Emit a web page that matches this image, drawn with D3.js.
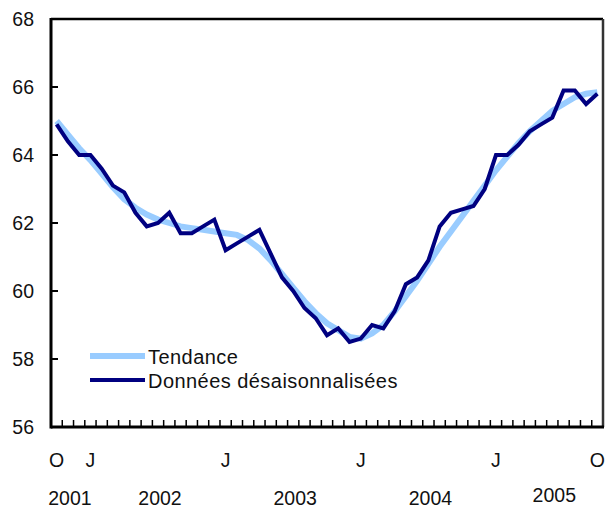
<!DOCTYPE html>
<html>
<head>
    <meta charset="utf-8">
    <script src="https://d3js.org/d3.v7.min.js"></script>
    <style>
        body, html { margin: 0; padding: 0; background: #fff; }
        svg { display: block; }
        text { font-family: "Liberation Sans", Arial, sans-serif; font-size: 19.5px; fill: #111; }
        .legend text { font-size: 20px; letter-spacing: 0.45px; }
    </style>
</head>
<body>
<svg width="608" height="508"></svg>
<script>
// months Oct 2001 .. Oct 2005
const months = d3.timeMonth.range(new Date(2001, 9, 1), new Date(2005, 10, 1));

// Tendance (trend)
const tendance = [
    65.0, 64.6, 64.2, 63.85, 63.45, 63.05, 62.7, 62.45, 62.25, 62.1, 62.0, 61.9,
    61.85, 61.8, 61.75, 61.7, 61.65, 61.5, 61.25, 60.9, 60.5, 60.1, 59.7, 59.35,
    59.05, 58.85, 58.65, 58.6, 58.75, 59.0, 59.4, 59.85, 60.3, 60.8, 61.3, 61.75,
    62.2, 62.65, 63.1, 63.55, 63.95, 64.35, 64.7, 65.0, 65.3, 65.5, 65.7, 65.8, 65.85
];

// Données désaisonnalisées
const desais = [
    64.9, 64.4, 64.0, 64.0, 63.6, 63.1, 62.9, 62.3, 61.9, 62.0, 62.3, 61.7,
    61.7, 61.9, 62.1, 61.2, 61.4, 61.6, 61.8, 61.1, 60.4, 60.0, 59.5, 59.2,
    58.7, 58.9, 58.5, 58.6, 59.0, 58.9, 59.4, 60.2, 60.4, 60.9, 61.9, 62.3,
    62.4, 62.5, 63.0, 64.0, 64.0, 64.3, 64.7, 64.9, 65.1, 65.9, 65.9, 65.5, 65.8
];

const yTicks = [56, 58, 60, 62, 64, 66, 68];
const years = [2001, 2002, 2003, 2004, 2005];
const monthLetters = ["J", "F", "M", "A", "M", "J", "J", "A", "S", "O", "N", "D"];
const seriesNames = ["Tendance", "Données désaisonnalisées"];

const svg = d3.select("svg");
const m = { left: 51, right: 603, top: 19, bottom: 427 };

const x = d3.scaleBand()
    .domain(months.map(d => +d))
    .range([m.left, m.right])
    .padding(0);
const cx = d => x(+d) + x.bandwidth() / 2;

const y = d3.scaleLinear().domain([56, 68]).range([m.bottom, m.top]);

// month boundary ticks on bottom axis
const bounds = months.map(d => x(+d)).concat([m.right]);
svg.append("g").selectAll("line")
    .data(bounds.slice(1, -1))
    .enter().append("line")
    .attr("x1", d => d).attr("x2", d => d)
    .attr("y1", m.bottom).attr("y2", m.bottom - 7)
    .attr("stroke", "#000").attr("stroke-width", 1.5);

// y ticks pointing inward
svg.append("g").selectAll("line")
    .data(yTicks.slice(1, -1))
    .enter().append("line")
    .attr("x1", m.left).attr("x2", m.left + 7)
    .attr("y1", d => y(d)).attr("y2", d => y(d))
    .attr("stroke", "#000").attr("stroke-width", 2);

svg.append("g").selectAll("text")
    .data(yTicks)
    .enter().append("text")
    .attr("x", 34)
    .attr("y", d => y(d))
    .attr("text-anchor", "end")
    .attr("dominant-baseline", "central")
    .text(d => d);

// frame
svg.append("line").attr("x1", m.left).attr("x2", m.right).attr("y1", m.top).attr("y2", m.top)
    .attr("stroke", "#000").attr("stroke-width", 2.5);
svg.append("line").attr("x1", m.right).attr("x2", m.right).attr("y1", m.top).attr("y2", m.bottom)
    .attr("stroke", "#333").attr("stroke-width", 2.5);
svg.append("line").attr("x1", m.left).attr("x2", m.left).attr("y1", m.top - 1).attr("y2", m.bottom + 1.5)
    .attr("stroke", "#000").attr("stroke-width", 3);
svg.append("line").attr("x1", m.left).attr("x2", m.right + 1).attr("y1", m.bottom).attr("y2", m.bottom)
    .attr("stroke", "#000").attr("stroke-width", 3);

// month labels: first month, each January, last month
const labelled = months.filter((d, i) => i === 0 || i === months.length - 1 || d.getMonth() === 0);
svg.append("g").selectAll("text")
    .data(labelled)
    .enter().append("text")
    .attr("x", d => cx(d))
    .attr("y", 460)
    .attr("text-anchor", "middle")
    .attr("dominant-baseline", "central")
    .text(d => monthLetters[d.getMonth()]);

// year labels centred on middle month of the year within range
svg.append("g").selectAll("text")
    .data(years)
    .enter().append("text")
    .attr("x", yr => {
        const ms = months.filter(d => d.getFullYear() === yr);
        return cx(ms[Math.floor(ms.length / 2)]) + 2;
    })
    .attr("y", yr => yr === 2005 ? 495 : 497.5)
    .attr("text-anchor", "middle")
    .attr("dominant-baseline", "central")
    .text(d => d);

const line = d3.line()
    .x((d, i) => cx(months[i]))
    .y(d => y(d));

svg.append("path").datum(tendance)
    .attr("d", line)
    .attr("fill", "none")
    .attr("stroke", "#99ccff")
    .attr("stroke-width", 6);

svg.append("path").datum(desais)
    .attr("d", line)
    .attr("fill", "none")
    .attr("stroke", "#000080")
    .attr("stroke-width", 4);

// legend
const legend = svg.append("g").attr("class", "legend");
const legendStyles = [
    { color: "#99ccff", width: 6, y: 356 },
    { color: "#000080", width: 4, y: 380 }
];
seriesNames.forEach((name, i) => {
    const s = legendStyles[i];
    legend.append("line")
        .attr("x1", 90).attr("x2", 145)
        .attr("y1", s.y).attr("y2", s.y)
        .attr("stroke", s.color).attr("stroke-width", s.width);
    legend.append("text")
        .attr("x", 148).attr("y", s.y + 1)
        .attr("dominant-baseline", "central")
        .text(name);
});
</script>
</body>
</html>
